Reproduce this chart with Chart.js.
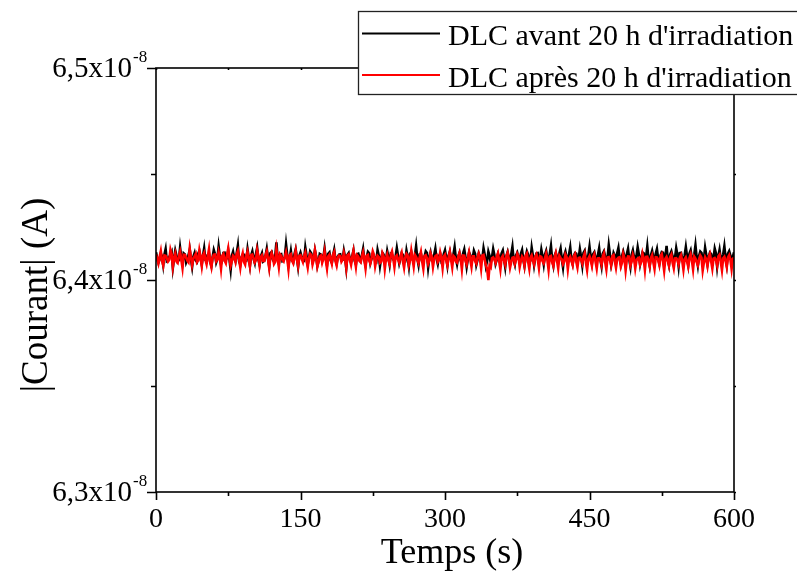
<!DOCTYPE html>
<html>
<head>
<meta charset="utf-8">
<script src="https://cdn.jsdelivr.net/npm/chart.js@4.4.0/dist/chart.umd.min.js"></script>
<style>
    html, body { margin: 0; padding: 0; background: #fff; }
    #wrap { width: 797px; height: 571px; }
</style>
</head>
<body>
<div id="wrap"><canvas id="courantChart" width="797" height="571"></canvas></div>
<script>
// Courant en unités de 1e-8 A, un point toutes les 1,25 s (0 -> 600 s)
const pasTemps = 1.25;

const courantAvant = [
    6.4131, 6.4104, 6.4082, 6.4097, 6.4125, 6.4112, 6.4071, 6.4120, 6.4146, 6.4089, 6.4093, 6.4109, 6.4118, 6.4131, 6.4058, 6.4101, 6.4139, 6.4115, 6.4087, 6.4094,
    6.4152, 6.4106, 6.4079, 6.4126, 6.4121, 6.4083, 6.4098, 6.4117, 6.4143, 6.4099, 6.4062, 6.4110, 6.4127, 6.4092, 6.4085, 6.4124, 6.4136, 6.4103, 6.4074, 6.4113,
    6.4149, 6.4095, 6.4091, 6.4118, 6.4124, 6.4086, 6.4066, 6.4107, 6.4141, 6.4122, 6.4083, 6.4100, 6.4157, 6.4111, 6.4076, 6.4091, 6.4128, 6.4129, 6.4095, 6.4105,
    6.4138, 6.4096, 6.4049, 6.4114, 6.4133, 6.4102, 6.4089, 6.4125, 6.4162, 6.4088, 6.4072, 6.4108, 6.4119, 6.4119, 6.4097, 6.4093, 6.4145, 6.4106, 6.4068, 6.4116,
    6.4135, 6.4101, 6.4081, 6.4123, 6.4151, 6.4098, 6.4073, 6.4110, 6.4126, 6.4087, 6.4092, 6.4115, 6.4147, 6.4104, 6.4065, 6.4127, 6.4132, 6.4096, 6.4086, 6.4112,
    6.4178, 6.4099, 6.4077, 6.4120, 6.4122, 6.4090, 6.4094, 6.4109, 6.4168, 6.4117, 6.4070, 6.4102, 6.4137, 6.4094, 6.4084, 6.4121, 6.4144, 6.4105, 6.4062, 6.4113,
    6.4129, 6.4108, 6.4096, 6.4092, 6.4153, 6.4116, 6.4075, 6.4103, 6.4134, 6.4125, 6.4088, 6.4097, 6.4140, 6.4111, 6.4067, 6.4089, 6.4123, 6.4119, 6.4090, 6.4106,
    6.4148, 6.4100, 6.4071, 6.4124, 6.4130, 6.4093, 6.4082, 6.4114, 6.4142, 6.4098, 6.4078, 6.4110, 6.4120, 6.4121, 6.4093, 6.4095, 6.4137, 6.4107, 6.4056, 6.4118,
    6.4127, 6.4099, 6.4085, 6.4113, 6.4139, 6.4091, 6.4074, 6.4122, 6.4124, 6.4104, 6.4091, 6.4117, 6.4146, 6.4096, 6.4069, 6.4109, 6.4133, 6.4126, 6.4080, 6.4101,
    6.4121, 6.4112, 6.4095, 6.4088, 6.4141, 6.4115, 6.4066, 6.4103, 6.4128, 6.4120, 6.4087, 6.4094, 6.4136, 6.4108, 6.4073, 6.4123, 6.4119, 6.4097, 6.4090, 6.4111,
    6.4150, 6.4114, 6.4078, 6.4100, 6.4126, 6.4119, 6.4092, 6.4090, 6.4138, 6.4107, 6.4064, 6.4124, 6.4131, 6.4098, 6.4086, 6.4116, 6.4159, 6.4102, 6.4071, 6.4121,
    6.4124, 6.4093, 6.4093, 6.4110, 6.4135, 6.4127, 6.4059, 6.4105, 6.4129, 6.4096, 6.4088, 6.4118, 6.4147, 6.4101, 6.4076, 6.4113, 6.4122, 6.4089, 6.4097, 6.4122,
    6.4140, 6.4106, 6.4068, 6.4115, 6.4133, 6.4097, 6.4084, 6.4120, 6.4155, 6.4103, 6.4075, 6.4111, 6.4127, 6.4092, 6.4091, 6.4125, 6.4144, 6.4108, 6.4063, 6.4099,
    6.4130, 6.4117, 6.4089, 6.4104, 6.4138, 6.4123, 6.4072, 6.4095, 6.4125, 6.4112, 6.4094, 6.4101, 6.4149, 6.4119, 6.4067, 6.4090, 6.4134, 6.4114, 6.4081, 6.4107,
    6.4146, 6.4118, 6.4077, 6.4096, 6.4123, 6.4110, 6.4090, 6.4126, 6.4139, 6.4100, 6.4061, 6.4113, 6.4132, 6.4105, 6.4085, 6.4121, 6.4156, 6.4094, 6.4073, 6.4116,
    6.4128, 6.4102, 6.4092, 6.4124, 6.4141, 6.4098, 6.4066, 6.4109, 6.4135, 6.4120, 6.4083, 6.4092, 6.4152, 6.4115, 6.4070, 6.4106, 6.4126, 6.4127, 6.4088, 6.4101,
    6.4143, 6.4112, 6.4074, 6.4119, 6.4137, 6.4103, 6.4089, 6.4123, 6.4160, 6.4097, 6.4068, 6.4114, 6.4129, 6.4108, 6.4086, 6.4126, 6.4148, 6.4099, 6.4060, 6.4117,
    6.4134, 6.4105, 6.4091, 6.4121, 6.4153, 6.4095, 6.4075, 6.4113, 6.4127, 6.4124, 6.4082, 6.4102, 6.4145, 6.4110, 6.4069, 6.4128, 6.4138, 6.4100, 6.4093, 6.4116,
    6.4157, 6.4109, 6.4079, 6.4122, 6.4131, 6.4104, 6.4087, 6.4118, 6.4149, 6.4098, 6.4065, 6.4125, 6.4136, 6.4111, 6.4090, 6.4106, 6.4164, 6.4120, 6.4072, 6.4096,
    6.4128, 6.4115, 6.4084, 6.4127, 6.4151, 6.4101, 6.4076, 6.4113, 6.4133, 6.4108, 6.4095, 6.4123, 6.4147, 6.4097, 6.4063, 6.4119, 6.4139, 6.4105, 6.4081, 6.4114,
    6.4154, 6.4120, 6.4074, 6.4103, 6.4130, 6.4126, 6.4092, 6.4110, 6.4158, 6.4099, 6.4068, 6.4117, 6.4137, 6.4106, 6.4085, 6.4124, 6.4146, 6.4101, 6.4077, 6.4115,
    6.4132, 6.4129, 6.4089, 6.4107, 6.4161, 6.4096, 6.4070, 6.4121, 6.4135, 6.4112, 6.4094, 6.4104, 6.4150, 6.4118, 6.4066, 6.4127, 6.4128, 6.4100, 6.4083, 6.4116,
    6.4155, 6.4111, 6.4073, 6.4125, 6.4140, 6.4102, 6.4088, 6.4119, 6.4163, 6.4107, 6.4069, 6.4114, 6.4134, 6.4128, 6.4091, 6.4098, 6.4152, 6.4117, 6.4075, 6.4109,
    6.4129, 6.4122, 6.4086, 6.4103, 6.4148, 6.4126, 6.4064, 6.4112, 6.4142, 6.4100, 6.4090, 6.4120, 6.4159, 6.4106, 6.4071, 6.4124, 6.4136, 6.4115, 6.4084, 6.4108,
    6.4131
];

const courantApres = [
    6.4121, 6.4099, 6.4078, 6.4108, 6.4136, 6.4091, 6.4069, 6.4116, 6.4114, 6.4102, 6.4087, 6.4095, 6.4142, 6.4121, 6.4063, 6.4104, 6.4125, 6.4088, 6.4081, 6.4112,
    6.4133, 6.4097, 6.4058, 6.4119, 6.4118, 6.4105, 6.4092, 6.4084, 6.4147, 6.4110, 6.4071, 6.4100, 6.4112, 6.4123, 6.4084, 6.4093, 6.4139, 6.4107, 6.4066, 6.4115,
    6.4128, 6.4096, 6.4075, 6.4111, 6.4145, 6.4087, 6.4061, 6.4106, 6.4119, 6.4120, 6.4089, 6.4098, 6.4131, 6.4103, 6.4054, 6.4114, 6.4123, 6.4092, 6.4080, 6.4118,
    6.4149, 6.4101, 6.4068, 6.4089, 6.4115, 6.4109, 6.4086, 6.4122, 6.4137, 6.4097, 6.4059, 6.4105, 6.4126, 6.4085, 6.4073, 6.4113, 6.4134, 6.4100, 6.4065, 6.4117,
    6.4120, 6.4103, 6.4083, 6.4094, 6.4141, 6.4115, 6.4070, 6.4108, 6.4116, 6.4090, 6.4090, 6.4119, 6.4135, 6.4099, 6.4057, 6.4106, 6.4127, 6.4112, 6.4076, 6.4086,
    6.4144, 6.4104, 6.4062, 6.4121, 6.4113, 6.4095, 6.4088, 6.4110, 6.4132, 6.4101, 6.4052, 6.4117, 6.4122, 6.4092, 6.4079, 6.4107, 6.4138, 6.4098, 6.4067, 6.4113,
    6.4117, 6.4100, 6.4085, 6.4114, 6.4130, 6.4093, 6.4060, 6.4105, 6.4124, 6.4118, 6.4074, 6.4096, 6.4140, 6.4109, 6.4064, 6.4088, 6.4111, 6.4116, 6.4082, 6.4102,
    6.4136, 6.4094, 6.4055, 6.4111, 6.4119, 6.4099, 6.4077, 6.4120, 6.4133, 6.4090, 6.4069, 6.4106, 6.4115, 6.4113, 6.4087, 6.4097, 6.4128, 6.4103, 6.4058, 6.4115,
    6.4121, 6.4095, 6.4072, 6.4107, 6.4137, 6.4101, 6.4063, 6.4117, 6.4110, 6.4089, 6.4084, 6.4110, 6.4131, 6.4098, 6.4056, 6.4114, 6.4118, 6.4092, 6.4079, 6.4104,
    6.4135, 6.4119, 6.4066, 6.4096, 6.4114, 6.4108, 6.4081, 6.4087, 6.4127, 6.4112, 6.4053, 6.4100, 6.4120, 6.4093, 6.4075, 6.4116, 6.4134, 6.4102, 6.4061, 6.4109,
    6.4116, 6.4097, 6.4083, 6.4112, 6.4129, 6.4090, 6.4059, 6.4106, 6.4123, 6.4115, 6.4071, 6.4094, 6.4138, 6.4101, 6.4064, 6.4118, 6.4109, 6.4096, 6.4080, 6.4108,
    6.4132, 6.4088, 6.4054, 6.4113, 6.4117, 6.4103, 6.4076, 6.4092, 6.4126, 6.4110, 6.4062, 6.4099, 6.4113, 6.4117, 6.4085, 6.4095, 6.4130, 6.4105, 6.4057, 6.4111,
    6.4119, 6.4093, 6.4070, 6.4106, 6.4133, 6.4098, 6.4061, 6.4114, 6.4108, 6.4087, 6.4082, 6.4109, 6.4127, 6.4102, 6.4052, 6.4116, 6.4115, 6.4091, 6.4074, 6.4105,
    6.4131, 6.4097, 6.4063, 6.4112, 6.4112, 6.4089, 6.4078, 6.4107, 6.4124, 6.4100, 6.4055, 6.4115, 6.4118, 6.4094, 6.4069, 6.4052, 6.3999, 6.4068, 6.4060, 6.4103,
    6.4107, 6.4096, 6.4081, 6.4110, 6.4126, 6.4088, 6.4050, 6.4104, 6.4114, 6.4092, 6.4072, 6.4113, 6.4129, 6.4099, 6.4058, 6.4085, 6.4105, 6.4107, 6.4077, 6.4095,
    6.4123, 6.4111, 6.4061, 6.4090, 6.4111, 6.4102, 6.4068, 6.4116, 6.4125, 6.4087, 6.4053, 6.4105, 6.4116, 6.4094, 6.4074, 6.4109, 6.4121, 6.4098, 6.4057, 6.4112,
    6.4109, 6.4089, 6.4079, 6.4103, 6.4124, 6.4095, 6.4049, 6.4110, 6.4113, 6.4084, 6.4066, 6.4106, 6.4127, 6.4092, 6.4056, 6.4114, 6.4104, 6.4097, 6.4075, 6.4087,
    6.4120, 6.4108, 6.4052, 6.4100, 6.4110, 6.4091, 6.4071, 6.4112, 6.4122, 6.4086, 6.4059, 6.4104, 6.4106, 6.4096, 6.4078, 6.4109, 6.4125, 6.4083, 6.4047, 6.4101,
    6.4112, 6.4094, 6.4067, 6.4108, 6.4121, 6.4087, 6.4054, 6.4102, 6.4103, 6.4097, 6.4073, 6.4111, 6.4126, 6.4085, 6.4050, 6.4106, 6.4108, 6.4093, 6.4070, 6.4113,
    6.4118, 6.4090, 6.4058, 6.4099, 6.4105, 6.4107, 6.4064, 6.4082, 6.4123, 6.4104, 6.4046, 6.4095, 6.4111, 6.4110, 6.4069, 6.4088, 6.4119, 6.4101, 6.4055, 6.4092,
    6.4102, 6.4105, 6.4072, 6.4086, 6.4124, 6.4099, 6.4048, 6.4109, 6.4110, 6.4091, 6.4065, 6.4103, 6.4117, 6.4084, 6.4053, 6.4107, 6.4106, 6.4096, 6.4071, 6.4112,
    6.4122, 6.4088, 6.4044, 6.4100, 6.4109, 6.4093, 6.4068, 6.4108, 6.4120, 6.4083, 6.4056, 6.4102, 6.4103, 6.4095, 6.4074, 6.4106, 6.4118, 6.4090, 6.4049, 6.4098,
    6.4107, 6.4087, 6.4063, 6.4104, 6.4121, 6.4093, 6.4051, 6.4110, 6.4101, 6.4085, 6.4070, 6.4099, 6.4116, 6.4106, 6.4045, 6.4082, 6.4108, 6.4097, 6.4066, 6.4108,
    6.4123, 6.4089, 6.4054, 6.4101, 6.4104, 6.4094, 6.4069, 6.4111, 6.4119, 6.4086, 6.4047, 6.4103, 6.4110, 6.4092, 6.4062, 6.4107, 6.4117, 6.4096, 6.4052, 6.4100,
    6.4106
];

const seriesLabels = ["DLC avant 20 h d'irradiation", "DLC après 20 h d'irradiation"];
const seriesColors = ['#000000', '#ff0000'];

const xTicks = [0, 150, 300, 450, 600];
const xMinorTicks = [75, 225, 375, 525];
const yTicks = [6.3, 6.4, 6.5];
const yTickLabels = ['6,3x10', '6,4x10', '6,5x10'];
const yMinorTicks = [6.35, 6.45];
const yExposant = '-8';

const xTitle = 'Temps (s)';
const yTitle = '|Courant| (A)';

const serif = '"Liberation Serif", "Times New Roman", serif';

function toPoints(values) {
    return values.map((v, i) => ({ x: i * pasTemps, y: v }));
}

// Cadre, graduations, libellés et légende dessinés à la main (style Origin)
const cadrePlugin = {
    id: 'cadre',
    afterDraw(chart) {
        const ctx = chart.ctx;
        const area = chart.chartArea;
        const xs = chart.scales.x;
        const ys = chart.scales.y;

        ctx.save();
        ctx.strokeStyle = '#000';
        ctx.lineWidth = 1.6;
        ctx.strokeRect(area.left, area.top, area.right - area.left, area.bottom - area.top);

        // x ticks
        ctx.beginPath();
        xTicks.forEach(v => {
            const px = Math.round(xs.getPixelForValue(v)) + 0.5;
            ctx.moveTo(px, area.bottom);
            ctx.lineTo(px, area.bottom + 8);
            ctx.moveTo(px, area.top);
            ctx.lineTo(px, area.top + 2);
        });
        xMinorTicks.forEach(v => {
            const px = Math.round(xs.getPixelForValue(v)) + 0.5;
            ctx.moveTo(px, area.bottom);
            ctx.lineTo(px, area.bottom + 4);
            ctx.moveTo(px, area.top);
            ctx.lineTo(px, area.top + 2);
        });
        // y ticks
        yTicks.forEach(v => {
            const py = Math.round(ys.getPixelForValue(v)) + 0.5;
            ctx.moveTo(area.left, py);
            ctx.lineTo(area.left - 9, py);
            ctx.moveTo(area.right, py);
            ctx.lineTo(area.right + 2, py);
        });
        yMinorTicks.forEach(v => {
            const py = Math.round(ys.getPixelForValue(v)) + 0.5;
            ctx.moveTo(area.left, py);
            ctx.lineTo(area.left - 5, py);
            ctx.moveTo(area.right, py);
            ctx.lineTo(area.right + 2, py);
        });
        ctx.stroke();

        // tick labels
        ctx.fillStyle = '#000';
        ctx.font = '28px ' + serif;
        ctx.textAlign = 'center';
        ctx.textBaseline = 'alphabetic';
        xTicks.forEach(v => {
            ctx.fillText(String(v), xs.getPixelForValue(v), area.bottom + 35);
        });

        yTicks.forEach((v, i) => {
            const py = ys.getPixelForValue(v);
            ctx.font = '29px ' + serif;
            ctx.textAlign = 'right';
            ctx.fillText(yTickLabels[i], area.left - 24, py + 9);
            ctx.font = '17px ' + serif;
            ctx.textAlign = 'left';
            ctx.fillText(yExposant, area.left - 23, py - 6);
        });

        // axis titles
        ctx.font = '36px ' + serif;
        ctx.textAlign = 'center';
        ctx.fillText(xTitle, 452, 563);

        ctx.save();
        ctx.translate(47, 295);
        ctx.rotate(-Math.PI / 2);
        ctx.font = '37px ' + serif;
        ctx.fillText(yTitle, 0, 0);
        ctx.restore();

        // legend box
        const lx = 358, ly = 11, lh = 83;
        ctx.fillStyle = '#fff';
        ctx.fillRect(lx, ly, 797 - lx + 10, lh);
        ctx.lineWidth = 1.3;
        ctx.strokeStyle = '#222';
        ctx.strokeRect(lx + 0.5, ly + 0.5, 797 - lx + 10, lh);

        const rows = [33.5, 75];
        const bases = [45, 87];
        chart.data.datasets.forEach((ds, i) => {
            ctx.strokeStyle = ds.borderColor;
            ctx.lineWidth = 2;
            ctx.beginPath();
            ctx.moveTo(362, rows[i]);
            ctx.lineTo(440, rows[i]);
            ctx.stroke();
            ctx.fillStyle = '#000';
            ctx.font = '30px ' + serif;
            ctx.textAlign = 'left';
            ctx.fillText(ds.label, 448, bases[i]);
        });
        ctx.restore();
    }
};

const chart = new Chart(document.getElementById('courantChart'), {
    type: 'line',
    data: {
        datasets: [
            {
                label: seriesLabels[0],
                data: toPoints(courantAvant),
                borderColor: seriesColors[0],
                borderWidth: 2.6,
                pointRadius: 0,
                tension: 0,
                order: 2
            },
            {
                label: seriesLabels[1],
                data: toPoints(courantApres),
                borderColor: seriesColors[1],
                borderWidth: 2.6,
                pointRadius: 0,
                tension: 0,
                order: 1
            }
        ]
    },
    options: {
        responsive: false,
        animation: false,
        layout: {
            padding: { top: 68, right: 63, left: 0, bottom: 0 }
        },
        plugins: {
            legend: { display: false },
            tooltip: { enabled: false }
        },
        scales: {
            x: {
                type: 'linear',
                min: 0,
                max: 600,
                ticks: { display: false },
                grid: { display: false },
                border: { display: false },
                afterFit: scale => { scale.height = 79; }
            },
            y: {
                min: 6.3,
                max: 6.5,
                ticks: { display: false },
                grid: { display: false },
                border: { display: false },
                afterFit: scale => { scale.width = 156; }
            }
        }
    },
    plugins: [cadrePlugin]
});
</script>
</body>
</html>
